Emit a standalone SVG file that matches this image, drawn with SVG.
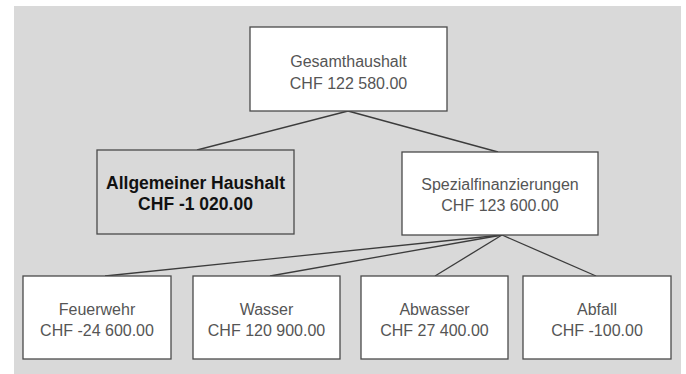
<svg xmlns="http://www.w3.org/2000/svg" width="686" height="374" viewBox="0 0 686 374">
<style>
.box{fill:#ffffff;stroke:#4a4a4a;stroke-width:1.3}
.gbox{fill:#d9d9d9;stroke:#4a4a4a;stroke-width:1.3}
.t{font-family:"Liberation Sans",Arial,sans-serif;font-size:16px;fill:#555555;text-anchor:middle}
.b{font-family:"Liberation Sans",Arial,sans-serif;font-size:17.5px;font-weight:bold;fill:#111111;text-anchor:middle}
.c{stroke:#3c3c3c;stroke-width:1.3;fill:none}
</style>
<rect x="0" y="0" width="686" height="374" fill="#ffffff"/>
<rect x="14" y="6" width="667" height="368" fill="#d9d9d9"/>
<g id="connectors">
<line class="c" x1="348" y1="111" x2="197" y2="150"/>
<line class="c" x1="348" y1="111" x2="498" y2="152"/>
<line class="c" x1="502" y1="235" x2="105" y2="276"/>
<line class="c" x1="502" y1="235" x2="270" y2="276"/>
<line class="c" x1="502" y1="235" x2="435" y2="276"/>
<line class="c" x1="502" y1="235" x2="596" y2="276"/>
</g>
<g id="gesamthaushalt">
<rect class="box" x="250" y="27" width="197" height="84"/>
<text class="t" x="348.5" y="67">Gesamthaushalt</text>
<text class="t" x="348.5" y="89">CHF 122 580.00</text>
</g>
<g id="allgemeiner">
<rect class="gbox" x="97" y="150" width="197" height="84"/>
<text class="b" x="195.5" y="189">Allgemeiner Haushalt</text>
<text class="b" x="195.5" y="210">CHF -1 020.00</text>
</g>
<g id="spezial">
<rect class="box" x="402" y="152" width="196" height="83"/>
<text class="t" x="500" y="190">Spezialfinanzierungen</text>
<text class="t" x="500" y="211">CHF 123 600.00</text>
</g>
<g id="feuerwehr">
<rect class="box" x="23" y="276" width="148" height="83"/>
<text class="t" x="97" y="315">Feuerwehr</text>
<text class="t" x="97" y="336">CHF -24 600.00</text>
</g>
<g id="wasser">
<rect class="box" x="193" y="276" width="147" height="83"/>
<text class="t" x="266.5" y="315">Wasser</text>
<text class="t" x="266.5" y="336">CHF 120 900.00</text>
</g>
<g id="abwasser">
<rect class="box" x="361" y="276" width="147" height="83"/>
<text class="t" x="434.5" y="315">Abwasser</text>
<text class="t" x="434.5" y="336">CHF 27 400.00</text>
</g>
<g id="abfall">
<rect class="box" x="523" y="276" width="148" height="83"/>
<text class="t" x="597" y="315">Abfall</text>
<text class="t" x="597" y="336">CHF -100.00</text>
</g>
</svg>
